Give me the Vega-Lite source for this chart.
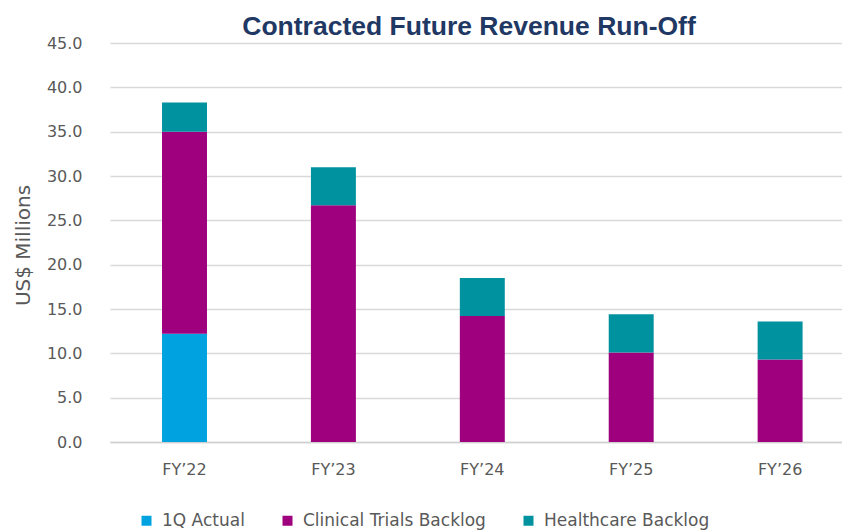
{
  "$schema": "https://vega.github.io/schema/vega-lite/v6.json",
  "width": 732,
  "height": 399,
  "autosize": {"type": "none"},
  "padding": {"left": 110, "top": 43, "right": 0, "bottom": 88},
  "background": "white",
  "title": {
    "text": "Contracted Future Revenue Run-Off",
    "font": "Liberation Sans",
    "fontSize": 26.5,
    "fontWeight": "bold",
    "color": "#1F3864",
    "anchor": "middle",
    "dx": -7,
    "dy": 13,
    "offset": 8
  },
  "data": {
    "values": [
      {"year": "FY’22", "series": "1Q Actual", "o": 1, "value": 12.2},
      {"year": "FY’22", "series": "Clinical Trials Backlog", "o": 2, "value": 22.8},
      {"year": "FY’22", "series": "Healthcare Backlog", "o": 3, "value": 3.3},
      {"year": "FY’23", "series": "Clinical Trials Backlog", "o": 2, "value": 26.7},
      {"year": "FY’23", "series": "Healthcare Backlog", "o": 3, "value": 4.3},
      {"year": "FY’24", "series": "Clinical Trials Backlog", "o": 2, "value": 14.2},
      {"year": "FY’24", "series": "Healthcare Backlog", "o": 3, "value": 4.3},
      {"year": "FY’25", "series": "Clinical Trials Backlog", "o": 2, "value": 10.1},
      {"year": "FY’25", "series": "Healthcare Backlog", "o": 3, "value": 4.3},
      {"year": "FY’26", "series": "Clinical Trials Backlog", "o": 2, "value": 9.3},
      {"year": "FY’26", "series": "Healthcare Backlog", "o": 3, "value": 4.3}
    ]
  },
  "mark": {"type": "bar"},
  "encoding": {
    "x": {
      "field": "year",
      "type": "nominal",
      "sort": null,
      "scale": {"paddingInner": 0.698, "paddingOuter": 0.307, "align": 0.569},
      "axis": {
        "title": null,
        "labelAngle": 0,
        "ticks": false,
        "labelPadding": 19,
        "labelFont": "DejaVu Sans",
        "labelFontSize": 16,
        "labelColor": "#595959",
        "domainColor": "#D0D0D0",
        "domainWidth": 1.5,
        "grid": false
      }
    },
    "y": {
      "field": "value",
      "type": "quantitative",
      "stack": "zero",
      "scale": {"domain": [0, 45], "nice": false},
      "axis": {
        "title": "US$ Millions",
        "titleFont": "DejaVu Sans",
        "titleFontSize": 20,
        "titleFontWeight": "normal",
        "titleColor": "#595959",
        "titleX": -87,
        "titleY": 202,
        "titleAngle": 270,
        "titleAlign": "center",
        "titleBaseline": "middle",
        "values": [0, 5, 10, 15, 20, 25, 30, 35, 40, 45],
        "format": ".1f",
        "ticks": false,
        "domain": false,
        "labelPadding": 28,
        "labelFont": "DejaVu Sans",
        "labelFontSize": 16,
        "labelColor": "#595959",
        "gridColor": "#D9D9D9",
        "gridWidth": 1.5
      }
    },
    "color": {
      "field": "series",
      "type": "nominal",
      "scale": {
        "domain": ["1Q Actual", "Clinical Trials Backlog", "Healthcare Backlog"],
        "range": ["#00A3E0", "#9E007E", "#00929F"]
      },
      "legend": {
        "title": null,
        "orient": "none",
        "direction": "horizontal",
        "legendX": 28,
        "legendY": 469,
        "padding": 0,
        "symbolType": "square",
        "symbolSize": 100,
        "symbolStrokeWidth": 0,
        "columnPadding": 34,
        "labelFont": "DejaVu Sans",
        "labelFontSize": 17,
        "labelColor": "#595959",
        "labelOffset": 7,
        "labelLimit": 400
      }
    },
    "order": {"field": "o", "type": "quantitative"}
  },
  "config": {"view": {"stroke": null}}
}
